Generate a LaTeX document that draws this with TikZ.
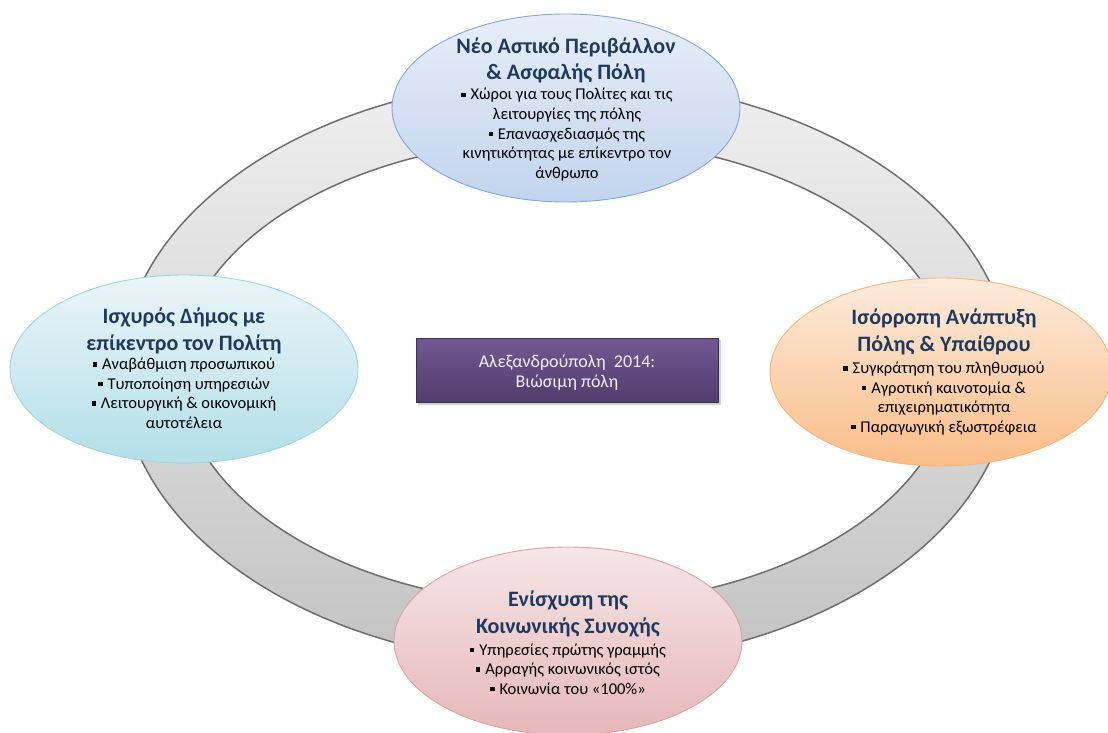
\documentclass[tikz,border=0pt]{standalone}
\usepackage{fontspec}
\setmainfont{Carlito}
\usetikzlibrary{shapes.geometric}
\definecolor{titleblue}{HTML}{1F3A5F}
\definecolor{ringtop}{HTML}{EFEFEF}
\definecolor{ringbot}{HTML}{C3C3C3}
\definecolor{ringline}{HTML}{6E6E6E}
\definecolor{bluetop}{HTML}{E7EEF8}
\definecolor{bluebot}{HTML}{C2D4EE}
\definecolor{blueline}{HTML}{7FA7D9}
\definecolor{cyantop}{HTML}{EAF5F8}
\definecolor{cyanbot}{HTML}{B3DFE8}
\definecolor{cyanline}{HTML}{9FD4E0}
\definecolor{orangetop}{HTML}{FDEBDC}
\definecolor{orangebot}{HTML}{F9BD88}
\definecolor{orangeline}{HTML}{F7B57A}
\definecolor{pinktop}{HTML}{F6E6E6}
\definecolor{pinkbot}{HTML}{E6B7B8}
\definecolor{pinkline}{HTML}{D9A3A2}
\definecolor{purptop}{HTML}{715893}
\definecolor{purpbot}{HTML}{523D6C}
\definecolor{purpline}{HTML}{3E2E52}
\definecolor{recttext}{HTML}{F1EDF6}
\newcommand{\sq}{\raisebox{0.18em}{\rule{0.26em}{0.26em}}\hspace{0.3em}}
\tikzset{
  bubble/.style={ellipse, inner sep=0pt, minimum width=348pt, minimum height=188pt, line width=0.9pt},
  titletext/.style={align=center, text=titleblue, inner sep=0pt, font=\fontsize{22}{26.5}\selectfont\bfseries},
  bodytext/.style={align=center, text=black, inner sep=0pt, font=\fontsize{16.5}{19.5}\selectfont},
  ringedge/.style={draw=ringline, line width=1.5pt},
}
\begin{document}
\begin{tikzpicture}[x=1pt, y=-1pt]
\useasboundingbox (0,0) rectangle (1108,733);
\coordinate (c) at (566,372);
% ring
\path[top color=ringtop, bottom color=ringbot, even odd rule]
  (c) ellipse [x radius=445pt, y radius=293pt]
  (c) ellipse [x radius=386pt, y radius=233pt];
\draw[ringedge] (c) ellipse [x radius=445pt, y radius=293pt];
\draw[ringedge] (c) ellipse [x radius=386pt, y radius=233pt];
% bubbles
\node[bubble, draw=blueline, top color=bluetop, bottom color=bluebot] (top) at (566,108) {};
\node[bubble, draw=cyanline, top color=cyantop, bottom color=cyanbot] (left) at (184,369) {};
\node[bubble, draw=orangeline, top color=orangetop, bottom color=orangebot, minimum width=342pt] (right) at (941,372) {};
\node[bubble, draw=pinkline, top color=pinktop, bottom color=pinkbot] (bottom) at (568,641) {};
% texts top
\node[titletext, anchor=base] (toptitle) at (566,80) {Νέο Αστικό Περιβάλλον\\ \& Ασφαλής Πόλη};
\node[bodytext, anchor=base] (topbody) at (567,178) {\sq Χώροι για τους Πολίτες και τις\\ λειτουργίες της πόλης\\ \sq Επανασχεδιασμός της\\ κινητικότητας με επίκεντρο τον\\ άνθρωπο};
% texts left
\node[titletext, anchor=base] (lefttitle) at (184,350) {Ισχυρός Δήμος με\\ επίκεντρο τον Πολίτη};
\node[bodytext, anchor=base] (leftbody) at (184,428) {\sq Αναβάθμιση προσωπικού\\ \sq Τυποποίηση υπηρεσιών\\ \sq Λειτουργική \& οικονομική\\ αυτοτέλεια};
% texts right
\node[titletext, anchor=base] (righttitle) at (944,351) {Ισόρροπη Ανάπτυξη\\ Πόλης \& Υπαίθρου};
\node[bodytext, anchor=base] (rightbody) at (944,432) {\sq Συγκράτηση του πληθυσμού\\ \sq Αγροτική καινοτομία \&\\ επιχειρηματικότητα\\ \sq Παραγωγική εξωστρέφεια};
% texts bottom
\node[titletext, anchor=base] (bottomtitle) at (568,633) {Ενίσχυση της\\ Κοινωνικής Συνοχής};
\node[bodytext, anchor=base] (bottombody) at (568,694) {\sq Υπηρεσίες πρώτης γραμμής\\ \sq Αρραγής κοινωνικός ιστός\\ \sq Κοινωνία του «100\%»};
% center rectangle
\fill[black!35, opacity=0.5] (418,340) rectangle (721,405);
\node[draw=purpline, line width=0.8pt, top color=purptop, bottom color=purpbot, minimum width=302pt, minimum height=64pt, inner sep=0pt] (center) at (567,370) {};
\node[align=center, text=recttext, inner sep=0pt, font=\fontsize{18}{20}\selectfont, anchor=base] (centertext) at (567,387) {Αλεξανδρούπολη\ \ 2014:\\ Βιώσιμη πόλη};
\end{tikzpicture}
\end{document}
